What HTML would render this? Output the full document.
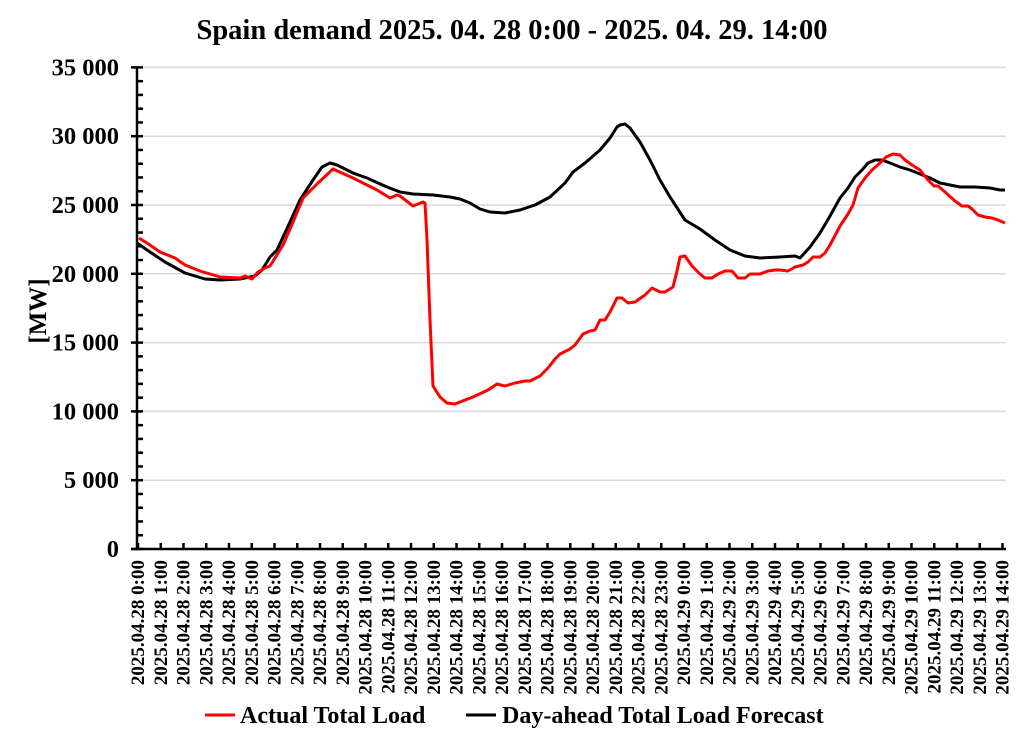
<!DOCTYPE html>
<html><head><meta charset="utf-8"><style>body{margin:0;background:#fff}svg{display:block}text{font-family:"Liberation Serif",serif;font-weight:bold;fill:#000}</style></head><body>
<svg width="1024" height="742" viewBox="0 0 1024 742" xmlns="http://www.w3.org/2000/svg">
<text x="512" y="39" font-size="28.5" text-anchor="middle">Spain demand 2025. 04. 28 0:00 - 2025. 04. 29. 14:00</text>
<g id="grid" stroke="#d9d9d9" stroke-width="1.5"></g>
<g id="ax" stroke="#000" stroke-width="2.5"></g>
<g id="yl" font-size="24.5" text-anchor="end"></g>
<g id="xl" font-size="19"></g>
<text transform="translate(46,311) rotate(-90)" font-size="25" text-anchor="middle">[MW]</text>
<polyline fill="none" stroke="#000" stroke-width="3" stroke-linejoin="round" points="137,243 150,252 165,262 185,273 205,279 220,280 240,279 255,276 262,270 270,257 277,250 290,222 300,200 313,180 322,167 330,163 337,165 353,173 367,178 387,187 400,192 413,194 433,195 450,197 460,199 470,203 480,209 490,212 505,213 520,210 535,205 550,197 565,183 573,172 585,163 600,150 610,138 617,127 620,125 625,124 630,128 640,142 650,160 660,180 670,197 685,220 700,229 715,240 730,250 745,256 760,258 780,257 795,256 800,258 810,247 820,233 830,216 840,198 848,188 855,177 862,170 868,163 875,160 882,160 890,163 900,167 910,170 920,174 930,178 940,183 950,185 960,187 975,187 990,188 1000,190 1005,190"/>
<polyline fill="none" stroke="#f00" stroke-width="3" stroke-linejoin="round" points="139,238 150,245 160,252 175,258 185,265 200,271 220,277 240,278 245,276 252,279 258,272 265,268 270,266 275,258 283,245 293,222 303,198 318,183 333,169 353,178 377,190 390,198 397,195 400,196 413,206 423,202 425,203 427,240 430,320 433,386 440,397 447,403 455,404 465,400 473,397 488,390 497,384 505,386 515,383 525,381 530,381 538,377 540,376 548,368 555,359 560,354 570,349 575,345 583,334 590,331 595,330 600,320 605,320 610,312 617,298 622,298 628,303 635,302 645,295 652,288 660,292 665,292 673,287 677,271 680,257 685,256 692,266 700,274 705,278 712,278 718,274 725,271 732,271 738,278 745,278 750,274 760,274 768,271 775,270 780,270 788,271 795,267 803,265 808,262 813,257 820,257 825,253 830,245 840,226 848,214 853,205 858,188 865,178 872,170 880,163 886,157 893,154 900,155 905,160 912,165 920,170 928,180 934,186 938,186 945,192 955,201 962,206 968,206 972,209 978,215 985,217 992,218 998,220 1005,223"/>
<line x1="205" y1="715" x2="235" y2="715" stroke="#f00" stroke-width="3"/>
<text x="240" y="723" font-size="24">Actual Total Load</text>
<line x1="466" y1="715" x2="496" y2="715" stroke="#000" stroke-width="3"/>
<text x="502" y="723" font-size="24">Day-ahead Total Load Forecast</text>
<script>
var ns="http://www.w3.org/2000/svg";
function el(p,t,a,txt){var e=document.createElementNS(ns,t);for(var k in a)e.setAttribute(k,a[k]);if(txt)e.textContent=txt;document.getElementById(p).appendChild(e);}
var y0=549,py=68.8/5000;
for(var v=0;v<=35000;v+=1000){var y=y0-v*py;
 if(v%5000==0){ if(v>0)el("grid","line",{x1:138,x2:1006,y1:y,y2:y});
  el("ax","line",{x1:131,x2:143,y1:y,y2:y});
  el("yl","text",{x:119,y:y+8},v==0?"0":Math.floor(v/1000)+" 000");}
 else el("ax","line",{x1:137,x2:143,y1:y,y2:y});}
el("ax","line",{x1:137,x2:137,y1:67,y2:550});
el("ax","line",{x1:131,x2:1006,y1:549,y2:549});
for(var i=0;i<=38;i++){var x=138+i*22.75;
 el("ax","line",{x1:x,x2:x,y1:543,y2:549});
 var d=i<24?"2025.04.28 ":"2025.04.29 ";var h=i%24;
 el("xl","text",{transform:"translate("+(x+6)+",560) rotate(-90)","text-anchor":"end"},d+h+":00");}
</script>
</svg>
</body></html>
